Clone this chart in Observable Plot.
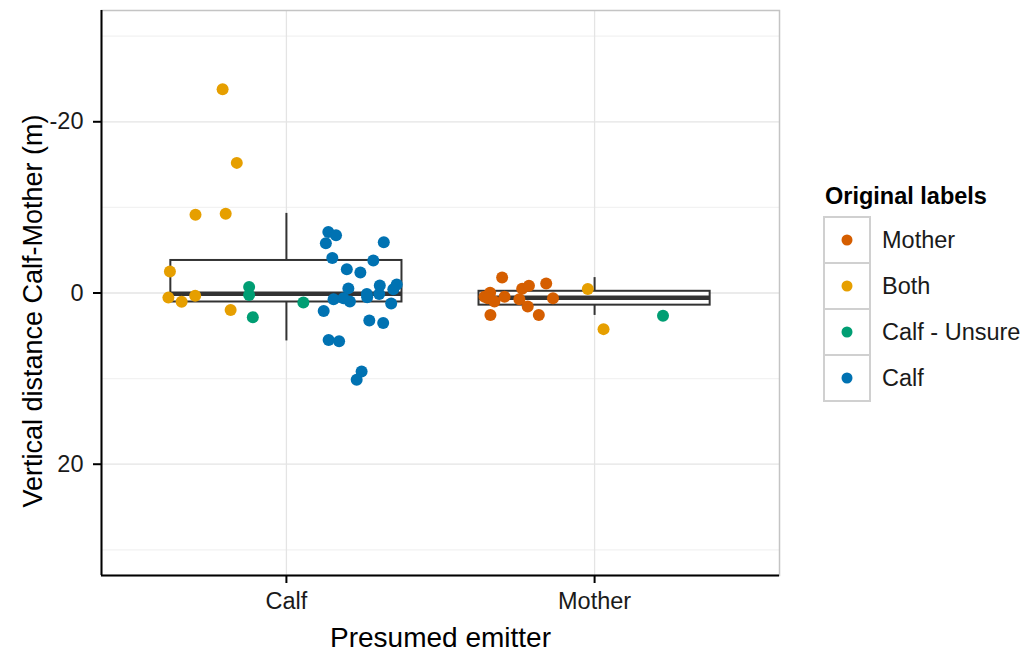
<!DOCTYPE html>
<html>
<head>
<meta charset="utf-8">
<script src="https://cdn.jsdelivr.net/npm/d3@7"></script>
<script src="https://cdn.jsdelivr.net/npm/@observablehq/plot@0.6"></script>
<style>
  html, body { margin: 0; padding: 0; background: white; }
  #wrap { position: relative; width: 1022px; height: 654px; overflow: hidden; font-family: "Liberation Sans", Arial, Helvetica, sans-serif; }
  #chart { position: absolute; left: 0; top: 0; }
  #legend { position: absolute; left: 0; top: 0; }
</style>
</head>
<body>
<div id="wrap"><div id="chart"></div><svg id="legend" width="1022" height="654"></svg></div>
<script>
// ---- data ----
const emitters = ["Calf", "Mother"];
const labelNames = ["Mother", "Both", "Calf - Unsure", "Calf"];
const labelColors = ["#D55E00", "#E69F00", "#009E73", "#0072B2"];
const majorTicks = [-20, 0, 20];
const minorTicks = [-30, -10, 10, 30];
const xTitle = "Presumed emitter";
const yTitle = "Vertical distance Calf-Mother (m)";
const legendTitle = "Original labels";

// boxplot summaries per emitter
const boxLow    = [-9.3, -1.8];
const boxQ1     = [-3.8, -0.2];
const boxMedian = [0.1, 0.55];
const boxQ3     = [1.05, 1.42];
const boxHigh   = [5.6, 2.62];

// jittered points: emitter, original label, jitter offset, value
const ptEmitter = [
  "Calf","Calf","Calf","Calf","Calf","Calf","Calf","Calf","Calf",
  "Calf","Calf","Calf","Calf",
  "Calf","Calf","Calf","Calf","Calf","Calf","Calf","Calf","Calf","Calf","Calf","Calf","Calf",
  "Calf","Calf","Calf","Calf","Calf","Calf","Calf","Calf","Calf","Calf","Calf","Calf","Calf",
  "Mother","Mother","Mother","Mother","Mother","Mother","Mother","Mother","Mother","Mother","Mother","Mother","Mother","Mother",
  "Mother","Mother","Mother"
];
const ptLabel = [
  "Both","Both","Both","Both","Both","Both","Both","Both","Both",
  "Calf - Unsure","Calf - Unsure","Calf - Unsure","Calf - Unsure",
  "Calf","Calf","Calf","Calf","Calf","Calf","Calf","Calf","Calf","Calf","Calf","Calf","Calf",
  "Calf","Calf","Calf","Calf","Calf","Calf","Calf","Calf","Calf","Calf","Calf","Calf","Calf",
  "Mother","Mother","Mother","Mother","Mother","Mother","Mother","Mother","Mother","Mother","Mother","Mother","Mother","Mother",
  "Both","Both","Calf - Unsure"
];
const ptJitter = [
  -0.207,-0.161,-0.295,-0.197,-0.378,-0.383,-0.340,-0.296,-0.181,
  -0.121,-0.121,-0.109,0.055,
  0.136,0.161,0.128,0.316,0.149,0.282,0.196,0.240,0.201,0.303,0.358,0.347,0.261,
  0.262,0.301,0.153,0.185,0.206,0.340,0.121,0.269,0.314,0.137,0.171,0.244,0.228,
  -0.300,-0.357,-0.339,-0.346,-0.325,-0.292,-0.338,-0.235,-0.213,-0.157,-0.244,-0.217,-0.181,-0.135,
  -0.022,0.029,0.222
];
const ptValue = [
  -23.8,-15.2,-9.15,-9.27,-2.5,0.54,1.03,0.33,1.98,
  -0.7,0.23,2.83,1.12,
  -7.13,-6.74,-5.8,-5.93,-4.1,-3.8,-2.77,-2.4,-0.54,-0.87,-0.99,-0.45,0.12,
  0.5,0.12,0.74,0.62,0.99,1.22,2.1,3.2,3.5,5.5,5.65,9.17,10.12,
  -1.8,0.43,-0.04,0.62,1.0,0.43,2.58,-0.5,-0.85,-1.1,0.74,1.59,2.56,0.62,
  -0.47,4.22,2.67
];

// ---- build tables ----
const boxes = emitters.map((e, i) => ({
  emitter: e, pos: i + 1,
  low: boxLow[i], q1: boxQ1[i], median: boxMedian[i], q3: boxQ3[i], high: boxHigh[i]
}));
const pts = ptValue.map((v, i) => ({
  emitter: ptEmitter[i],
  label: ptLabel[i],
  x: emitters.indexOf(ptEmitter[i]) + 1 + ptJitter[i],
  y: v
}));

const halfBox = 0.375;
const ink = "#333333";
const font = "'Liberation Sans', Arial, Helvetica, sans-serif";

const chart = Plot.plot({
  width: 785,
  height: 654,
  marginTop: 10,
  marginRight: 6,
  marginBottom: 79,
  marginLeft: 101,
  style: { fontFamily: font, background: "white", color: "#111" },
  x: { type: "linear", domain: [0.4, 2.6] },
  y: { domain: [-33, 33], reverse: true },
  color: { domain: labelNames, range: labelColors },
  marks: [
    Plot.gridY(minorTicks, { stroke: "#f2f2f2", strokeOpacity: 1, strokeWidth: 1.2 }),
    Plot.gridY(majorTicks, { stroke: "#e4e4e4", strokeOpacity: 1, strokeWidth: 1.3 }),
    Plot.gridX([1, 2], { stroke: "#e4e4e4", strokeOpacity: 1, strokeWidth: 1.3 }),
    Plot.frame({ stroke: "#c4c4c4", strokeWidth: 1.5 }),
    Plot.rect(boxes, { x1: d => d.pos - halfBox, x2: d => d.pos + halfBox, y1: "q1", y2: "q3", fill: "white", stroke: ink, strokeWidth: 2 }),
    Plot.ruleX(boxes, { x: "pos", y1: "low", y2: "q1", stroke: ink, strokeWidth: 2 }),
    Plot.ruleX(boxes, { x: "pos", y1: "q3", y2: "high", stroke: ink, strokeWidth: 2 }),
    Plot.ruleY(boxes, { y: "median", x1: d => d.pos - halfBox, x2: d => d.pos + halfBox, stroke: ink, strokeWidth: 4.5 }),
    Plot.dot(pts, { x: "x", y: "y", fill: "label", r: 6 }),
    Plot.ruleX([0.4], { stroke: "black", strokeWidth: 2 }),
    Plot.ruleY([33], { stroke: "black", strokeWidth: 2 }),
    Plot.axisY(majorTicks, { tickSize: 8, tickPadding: 10, fontSize: 23.5, label: null, tickFormat: d => String(d).replace("−", "-"), stroke: "black", strokeWidth: 2, fill: "#1a1a1a" }),
    Plot.axisX([1, 2], { tickSize: 8, tickPadding: 9, fontSize: 23.5, label: null, tickFormat: d => emitters[d - 1], stroke: "black", strokeWidth: 2, fill: "#1a1a1a" }),
    Plot.text([yTitle], { frameAnchor: "left", textAnchor: "middle", rotate: -90, dx: -68, dy: 18, fontSize: 27, fill: "black" }),
    Plot.text([xTitle], { frameAnchor: "bottom", dy: 71, fontSize: 28, fill: "black" })
  ]
});
document.getElementById("chart").appendChild(chart);

// ---- legend ----
const lg = d3.select("#legend");
lg.append("text").attr("x", 825).attr("y", 204).attr("font-size", 23.5).attr("font-weight", "bold")
  .attr("font-family", font).attr("fill", "black").text(legendTitle);
labelNames.forEach((name, i) => {
  const top = 217 + i * 46;
  lg.append("rect").attr("x", 824).attr("y", top).attr("width", 46).attr("height", 46)
    .attr("fill", "white").attr("stroke", "#d0d0d0").attr("stroke-width", 2);
  lg.append("circle").attr("cx", 847).attr("cy", top + 23).attr("r", 5.5).attr("fill", labelColors[i]);
  lg.append("text").attr("x", 882).attr("y", top + 23).attr("dy", "0.36em").attr("font-size", 23.5)
    .attr("font-family", font).attr("fill", "#1a1a1a").text(name);
});
</script>
</body>
</html>
